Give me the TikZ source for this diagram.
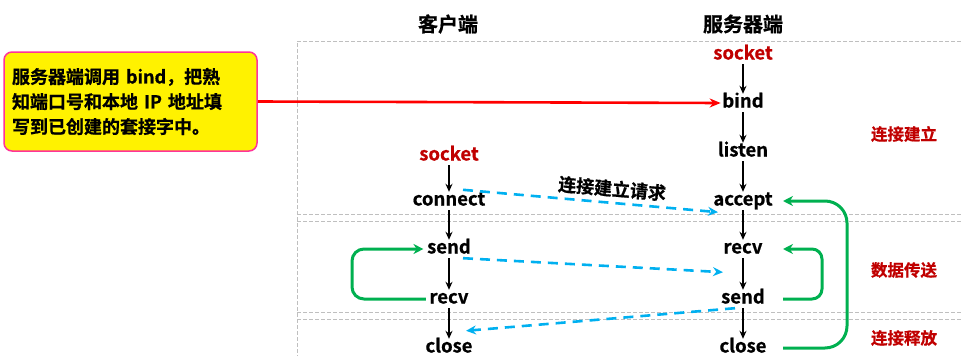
\documentclass[tikz,border=0pt]{standalone}
\usepackage{fontspec}
\setmainfont{Noto Sans CJK SC}[BoldFont={Noto Sans CJK SC Bold}, BoldFeatures={FakeBold=0.8}]
\usetikzlibrary{arrows.meta}
\definecolor{darkred}{HTML}{C00000}
\definecolor{skyblue}{HTML}{00B0F0}
\definecolor{okgreen}{HTML}{00B050}
\definecolor{pinkb}{HTML}{FF3399}
\definecolor{secgray}{HTML}{BFBFBF}
\begin{document}
\begin{tikzpicture}[x=1pt,y=-1pt,
  fn/.style={font=\fontsize{18.5}{20}\selectfont\bfseries, inner sep=1.5pt, text height=12pt, text depth=3pt, yshift=-3pt},
  redfn/.style={fn, text=darkred},
  flow/.style={line width=2pt, -{Stealth[length=8pt,width=7pt]}},
  msg/.style={skyblue, line width=2.6pt, dash pattern=on 10pt off 7pt, -{Stealth[length=10pt,width=9pt]}},
  loop/.style={okgreen, line width=3pt, -{Stealth[length=10pt,width=10pt]}},
  secline/.style={secgray, line width=0.9pt, dash pattern=on 4pt off 2pt},
  hdr/.style={font=\fontsize{20}{22}\selectfont\bfseries, yshift=-2pt},
  sect/.style={font=\fontsize{16.5}{18}\selectfont\bfseries, text=darkred}
]
\useasboundingbox (0,0) rectangle (961,356);
% section frames
\draw[secline] (961,41) -- (297,41) -- (297,356);
\draw[secline] (297,214) -- (961,214);
\draw[secline] (297,221) -- (961,221);
\draw[secline] (297,312) -- (961,312);
\draw[secline] (297,319) -- (961,319);
% headers
\node[hdr] (hc) at (448,22) {客户端};
\node[hdr] (hs) at (743,22) {服务器端};
% section labels
\node[sect] (l1) at (904,134) {连接建立};
\node[sect] (l2) at (904,270) {数据传送};
\node[sect] (l3) at (904,338) {连接释放};
% server column
\node[redfn] (ssocket) at (743,52) {socket};
\node[fn] (sbind) at (743,100) {bind};
\node[fn] (slisten) at (743,149) {listen};
\node[fn] (saccept) at (743,198) {accept};
\node[fn] (srecv) at (743,246) {recv};
\node[fn] (ssend) at (743,296) {send};
\node[fn] (sclose) at (743,345) {close};
% client column
\node[redfn] (csocket) at (449,153) {socket};
\node[fn] (cconnect) at (449,198) {connect};
\node[fn] (csend) at (449,246) {send};
\node[fn] (crecv) at (449,296) {recv};
\node[fn] (cclose) at (449,345) {close};
% vertical flow
\draw[flow] (ssocket) -- (sbind);
\draw[flow] (sbind) -- (slisten);
\draw[flow] (slisten) -- (saccept);
\draw[flow] (saccept) -- (srecv);
\draw[flow] (srecv) -- (ssend);
\draw[flow] (ssend) -- (sclose);
\draw[flow] (csocket) -- (cconnect);
\draw[flow] (cconnect) -- (csend);
\draw[flow] (csend) -- (crecv);
\draw[flow] (crecv) -- (cclose);
% note box
\node[draw=pinkb, line width=1.5pt, fill=yellow, rounded corners=8pt, minimum width=253pt, minimum height=99pt,
  align=left, font=\fontsize{18}{25}\selectfont\bfseries, text width=237pt, inner sep=0pt] (note) at (130.5,101.5)
  {服务器端调用 bind，把熟\\知端口号和本地 IP 地址填\\写到已创建的套接字中。};
\draw[red, line width=2.6pt, -{Stealth[length=11pt,width=9pt]}] (note.east) -- (sbind.west);
% messages
\draw[msg] ([xshift=14pt,yshift=2pt]cconnect.north) -- node[pos=0.58, sloped, above=1pt, font=\fontsize{18}{20}\selectfont\bfseries, text=black] (req) {连接建立请求} ([xshift=-25pt,yshift=-2pt]saccept.south);
\draw[msg] ([xshift=14pt]csend.south) -- ([xshift=-20pt,yshift=-14pt]srecv.south);
\draw[msg] ([xshift=-8pt]ssend.south) -- ([xshift=17pt,yshift=8pt]cclose.north);
% green loops
\coordinate (gl) at (352,0);
\coordinate (gr1) at (783,0);
\coordinate (gr2) at (822,0);
\coordinate (gr3) at (847,0);
\draw[loop, rounded corners=12pt] ([xshift=-2pt]crecv.west) -- (crecv -| gl) -- (csend -| gl) -- ([xshift=-2pt]csend.west);
\draw[loop, rounded corners=10pt] (ssend -| gr1) -- (ssend -| gr2) -- (srecv -| gr2) -- (srecv -| gr1);
\draw[loop, rounded corners=22pt] (sclose -| gr1) -- (sclose -| gr3) -- (saccept -| gr3) -- (saccept -| gr1);
\end{tikzpicture}
\end{document}
